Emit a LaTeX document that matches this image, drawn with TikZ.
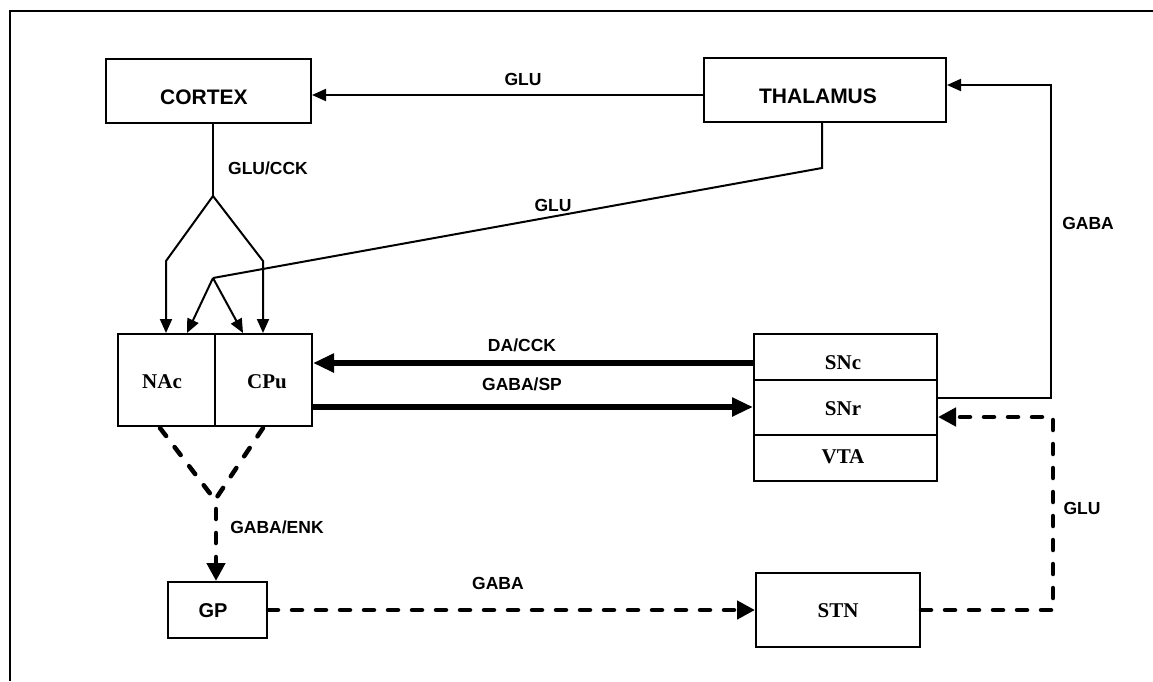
\documentclass[tikz,border=0pt]{standalone}
\usepackage{fontspec}
\setmainfont{Liberation Serif}
\newfontfamily\lblfont{Liberation Sans}
\usetikzlibrary{arrows.meta}
\begin{document}
\begin{tikzpicture}[x=1pt,y=-1pt,
  box/.style={draw, line width=2pt, rectangle, inner sep=0pt},
  sanstxt/.style={inner sep=0pt, font=\lblfont\bfseries\fontsize{21}{21}\selectfont},
  sertxt/.style={inner sep=0pt, font=\bfseries\fontsize{21}{21}\selectfont},
  lbl/.style={inner sep=0pt, font=\lblfont\bfseries\fontsize{17.5}{17.5}\selectfont},
  thin/.style={line width=2pt},
  thinarrow/.style={line width=2pt, -{Triangle[length=14pt,width=12pt]}},
  thick/.style={line width=5.5pt, -{Triangle[length=21pt,width=18pt]}},
  dashline/.style={line width=4.5pt, dash pattern=on 10pt off 14pt, line cap=round},
  dasharrow/.style={dashline, -{Triangle[length=18pt,width=18pt]}}
]
\useasboundingbox (0,0) rectangle (1153,681);
% frame (only top and left edges visible)
\draw[line width=2.2pt] (10,681) -- (10,11) -- (1153,11);

% boxes
\node[box, minimum width=205pt, minimum height=64pt] (cortex) at (208.5,91) {};
\node[sanstxt] (cortexT) at (204,97) {CORTEX};
\node[box, minimum width=242pt, minimum height=64pt] (thal) at (825,90) {};
\node[sanstxt] (thalT) at (818,96) {THALAMUS};
\node[box, minimum width=97pt, minimum height=92pt] (nac) at (166.5,380) {};
\node[sertxt] (nacT) at (162,382) {NAc};
\node[box, minimum width=97pt, minimum height=92pt] (cpu) at (263.5,380) {};
\node[sertxt] (cpuT) at (267,382) {CPu};
\node[box, minimum width=183pt, minimum height=46pt] (snc) at (845.5,357) {};
\node[sertxt] (sncT) at (843,363) {SNc};
\node[box, minimum width=183pt, minimum height=55pt] (snr) at (845.5,407.5) {};
\node[sertxt] (snrT) at (843,409) {SNr};
\node[box, minimum width=183pt, minimum height=46pt] (vta) at (845.5,458) {};
\node[sertxt] (vtaT) at (843,457) {VTA};
\node[box, minimum width=99pt, minimum height=56pt] (gp) at (217.5,610) {};
\node[sanstxt, font=\lblfont\bfseries\fontsize{20}{20}\selectfont] (gpT) at (213,611) {GP};
\node[box, minimum width=164pt, minimum height=74pt] (stn) at (838,610) {};
\node[sertxt] (stnT) at (838,611) {STN};

% helper coordinates
\coordinate (cj) at (213,196);
\coordinate (cl) at (166,261);
\coordinate (cr) at (263,261);
\coordinate (tb) at (822,168);
\coordinate (tj) at (213,278);
\coordinate (tl) at (187,300);
\coordinate (tr) at (243,300);
\coordinate (gaba1) at (1051,398);
\coordinate (gaba2) at (1051,85);
\coordinate (glu1) at (1053,610);
\coordinate (glu2) at (1053,417);
\coordinate (dl) at (160,428);
\coordinate (dr) at (263,428);
\coordinate (dj) at (215,500);
\coordinate (dv) at (216,509);

% THALAMUS -> CORTEX
\draw[thinarrow] (thal.west |- 0,95) -- (cortex.east |- 0,95);
\node[lbl] (l1) at (523,79) {GLU};

% CORTEX -> NAc / CPu
\draw[thin] (cortex.south -| cj) -- (cj);
\draw[thinarrow] (cj) -- (cl) -- (cl |- nac.north);
\draw[thinarrow] (cj) -- (cr) -- (cr |- cpu.north);
\node[lbl] (l2) at (268,168) {GLU/CCK};

% THALAMUS -> NAc / CPu
\draw[thin] (thal.south -| tb) -- (tb) -- (tj);
\draw[thinarrow] (tj) -- (tl |- nac.north);
\draw[thinarrow] (tj) -- (tr |- cpu.north);
\node[lbl] (l3) at (553,205) {GLU};

% SNc -> CPu, CPu -> SNr
\draw[thick] (snc.west |- 0,363) -- (cpu.east |- 0,363);
\node[lbl] (l5) at (522,345) {DA/CCK};
\draw[thick] (cpu.east |- 0,407) -- (snr.west |- 0,407);
\node[lbl] (l6) at (522,384) {GABA/SP};

% SNr -> THALAMUS
\draw[thinarrow] (snr.east |- gaba1) -- (gaba1) -- (gaba2) -- (thal.east |- gaba2);
\node[lbl] (l4) at (1088,223) {GABA};

% STN -> SNr
\draw[dasharrow] (stn.east |- glu1) -- (glu1) -- (glu2) -- (snr.east |- glu2);
\node[lbl] (l7) at (1082,508) {GLU};

% GP -> STN
\draw[dasharrow] (gp.east |- 0,610) -- (stn.west |- 0,610);
\node[lbl] (l9) at (498,583) {GABA};

% NAc / CPu -> GP
\draw[dashline] (dl) -- (dj);
\draw[dashline] (dr) -- (dj);
\draw[dasharrow] (dv) -- (dv |- gp.north);
\node[lbl] (l8) at (277,527) {GABA/ENK};
\end{tikzpicture}
\end{document}
